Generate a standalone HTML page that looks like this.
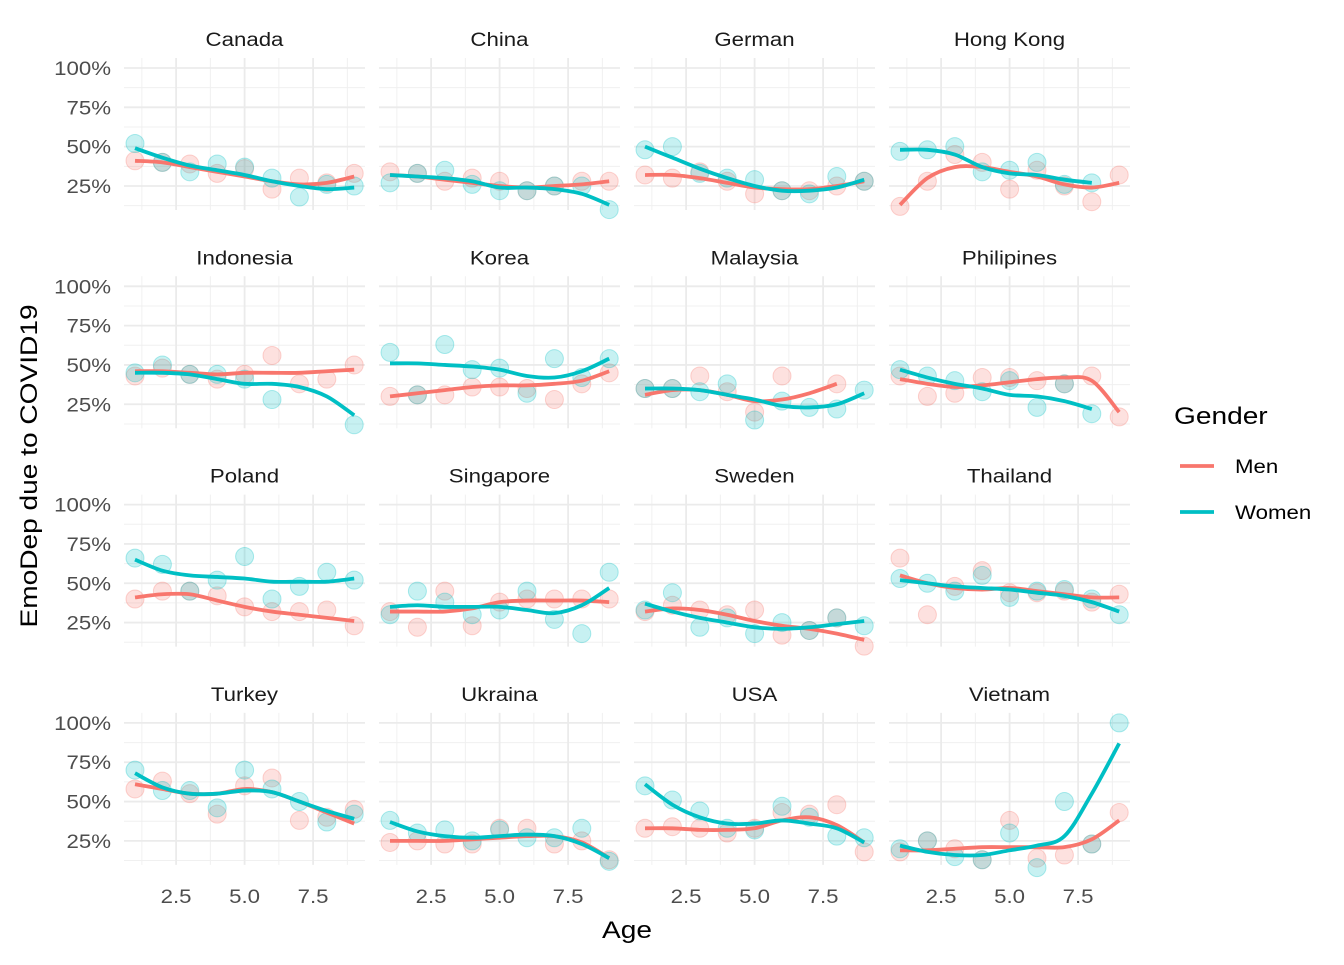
<!DOCTYPE html>
<html><head><meta charset="utf-8"><style>
body{margin:0;background:#fff;}
svg{font-family:"Liberation Sans",sans-serif;}
</style></head><body>
<svg id="chart" width="1344" height="960" xmlns="http://www.w3.org/2000/svg"></svg>
<script>
const countries=["Canada","China","German","Hong Kong","Indonesia","Korea","Malaysia","Philipines","Poland","Singapore","Sweden","Thailand","Turkey","Ukraina","USA","Vietnam"];
const ages=[1,2,3,4,5,6,7,8,9];
const menPts=[
[41,40,39,33,36,23,30,27,33],[34,33,28,30,28,22,25,28,28],[32,30,34,28,20,22,22,25,28],[12,28,45,40,23,35,25,15,32],
[43,48,44,41,44,56,38,41,50],[30,31,31,36,36,35,28,38,45],[35,35,43,33,20,43,null,38,null],[43,30,32,42,42,40,38,43,17],
[40,45,45,42,35,32,32,33,23],[32,22,45,23,38,40,40,40,40],[32,36,33,30,33,17,20,28,10],[66,30,48,58,44,44,45,38,43],
[58,63,55,42,60,65,38,40,45],[24,25,23,23,33,33,23,25,13],[33,34,33,30,33,43,42,48,18],[18,25,20,13,38,14,16,23,43]];
const womenPts=[
[52,40,34,39,37,30,18,26,25],[27,33,35,26,22,22,25,25,10],[48,50,33,30,29,22,20,31,28],[47,48,50,34,35,40,26,27,null],
[45,50,44,44,41,28,null,null,12],[58,31,63,47,48,32,54,42,54],[35,35,33,38,15,27,23,22,34],[47,43,40,33,40,23,38,19,null],
[66,62,45,52,67,40,48,57,52],[30,45,38,30,33,45,27,18,57],[33,44,22,28,18,25,20,28,23],[53,50,45,55,41,45,46,40,30],
[70,57,57,46,70,58,50,37,42],[38,30,32,25,32,27,27,33,12],[60,51,44,33,32,47,40,28,27],[20,25,15,13,30,8,50,23,100]];
const menFit=[
[41,40,37,34,31,28,26,27,31],[32,31,29,27,25,24,25,26,28],[32,32,30,27,24,23,23,25,28],[13,30,37,37,34,31,26,24,27],
[46,46,45,44,45,45,45,46,47],[30,32,34,36,37,37,38,40,46],[31,34,34,31,27,28,32,38,null],[41,38,36,37,39,41,42,40,20],
[41,43,43,39,35,32,30,28,26],[32,32,32,34,38,39,39,39,38],[32,34,33,30,26,23,21,18,14],[55,50,47,46,47,45,43,41,41],
[61,58,55,55,58,56,50,43,36],[25,25,25,26,27,28,28,24,14],[33,33,32,32,33,38,40,35,24],[19,19,20,21,21,21,21,26,38]];
const womenFit=[
[49,43,38,35,32,28,25,23,24],[32,31,30,28,24,24,23,20,13],[50,43,36,30,25,22,22,24,29],[48,48,45,37,33,32,29,27,null],
[45,45,44,41,38,38,36,30,18],[51,51,50,49,47,43,42,46,54],[35,35,34,31,28,24,23,25,32],[47,42,38,35,31,30,27,22,null],
[65,58,55,54,53,51,51,51,53],[35,36,35,35,35,33,31,36,47],[37,32,28,25,22,21,22,24,26],[52,50,48,47,46,44,42,38,32],
[68,59,55,55,57,56,50,44,39],[37,31,28,27,28,29,28,23,14],[61,48,40,36,36,38,36,33,24],[22,18,16,16,19,22,28,55,87]];
const yTicks=[25,50,75,100];
const xTicks=[2.5,5.0,7.5];
const MEN="#F8766D",WOM="#00BFC4";
const svg=document.getElementById('chart');
const NS="http://www.w3.org/2000/svg";
function mk(t,a,p){const e=document.createElementNS(NS,t);for(const k in a)e.setAttribute(k,a[k]);(p||svg).appendChild(e);return e;}
function widen(e){const w=e.getComputedTextLength();e.setAttribute('textLength',w*1.17);e.setAttribute('lengthAdjust','spacingAndGlyphs');}
const PW=241,PT=58,PB=210;
function xs(c,v){return 135+c*255+(v-1)*27.4;}
function ys(r,v){return 68+r*218.3+(100-v)*1.573;}
function smooth(pts){if(pts.length<2)return"";let d="M"+pts[0][0]+","+pts[0][1];
for(let i=0;i<pts.length-1;i++){const p0=pts[i-1]||pts[i],p1=pts[i],p2=pts[i+1],p3=pts[i+2]||p2;
d+=" C"+(p1[0]+(p2[0]-p0[0])/6)+","+(p1[1]+(p2[1]-p0[1])/6)+" "+(p2[0]-(p3[0]-p1[0])/6)+","+(p2[1]-(p3[1]-p1[1])/6)+" "+p2[0]+","+p2[1];}return d;}
countries.forEach((name,i)=>{
const r=Math.floor(i/4),c=i%4;const g=mk('g',{});


const left=124+c*255,top=PT+r*218.3,bot=PB+r*218.3;
[12.5,37.5,62.5,87.5].forEach(v=>mk('line',{x1:left,x2:left+PW,y1:ys(r,v),y2:ys(r,v),stroke:"#f0f0f0","stroke-width":1},g));
[1.25,3.75,6.25,8.75].forEach(v=>mk('line',{x1:xs(c,v),x2:xs(c,v),y1:top,y2:bot,stroke:"#f0f0f0","stroke-width":1},g));
yTicks.forEach(v=>mk('line',{x1:left,x2:left+PW,y1:ys(r,v),y2:ys(r,v),stroke:"#ebebeb","stroke-width":1.8},g));
xTicks.forEach(v=>mk('line',{x1:xs(c,v),x2:xs(c,v),y1:top,y2:bot,stroke:"#ebebeb","stroke-width":1.8},g));
const t=mk('text',{x:left+PW/2,y:46+r*218.3,"text-anchor":"middle","font-size":19,fill:"#1a1a1a"},g);t.textContent=name;widen(t);

if(c===0)yTicks.forEach(v=>{const e=mk('text',{x:111,y:ys(r,v)+7,"text-anchor":"end","font-size":19,fill:"#4d4d4d"},g);e.textContent=v+"%";widen(e);
});
if(r===3)xTicks.forEach(v=>{const e=mk('text',{x:xs(c,v),y:903,"text-anchor":"middle","font-size":19,fill:"#4d4d4d"},g);e.textContent=v.toFixed(1);widen(e);
});
[[menPts[i],MEN],[womenPts[i],WOM]].forEach(([arr,col])=>arr.forEach((v,k)=>{if(v==null)return;
const p=mk('circle',{cx:xs(c,ages[k]),cy:ys(r,v),r:9,fill:col,"fill-opacity":0.22,stroke:col,"stroke-opacity":0.3},g);
}));
[[menFit[i],MEN,'men'],[womenFit[i],WOM,'women']].forEach(([arr,col,nm])=>{
const pts=[];arr.forEach((v,k)=>{if(v!=null)pts.push([xs(c,ages[k]),ys(r,v)]);});
const l=mk('path',{d:smooth(pts),fill:"none",stroke:col,"stroke-width":3.8},g);
});
});
let e=mk('text',{x:627,y:938,"text-anchor":"middle","font-size":24,fill:"#000"});e.textContent="Age";widen(e);

e=mk('text',{x:37,y:466,"text-anchor":"middle","font-size":24,fill:"#000",transform:"rotate(-90 37 466)"});e.textContent="EmoDep due to COVID19";widen(e);

const lg=mk('g',{});
e=mk('text',{x:1174,y:424,"font-size":24,fill:"#000"},lg);e.textContent="Gender";widen(e);

[["Men",MEN,466],["Women",WOM,512]].forEach(([n,col,y])=>{
const it=mk('g',{},lg);
mk('line',{x1:1180,x2:1214,y1:y,y2:y,stroke:col,"stroke-width":3.8},it);
const t=mk('text',{x:1235,y:y+7,"font-size":19,fill:"#000"},it);t.textContent=n;widen(t);});
</script>
</body></html>
